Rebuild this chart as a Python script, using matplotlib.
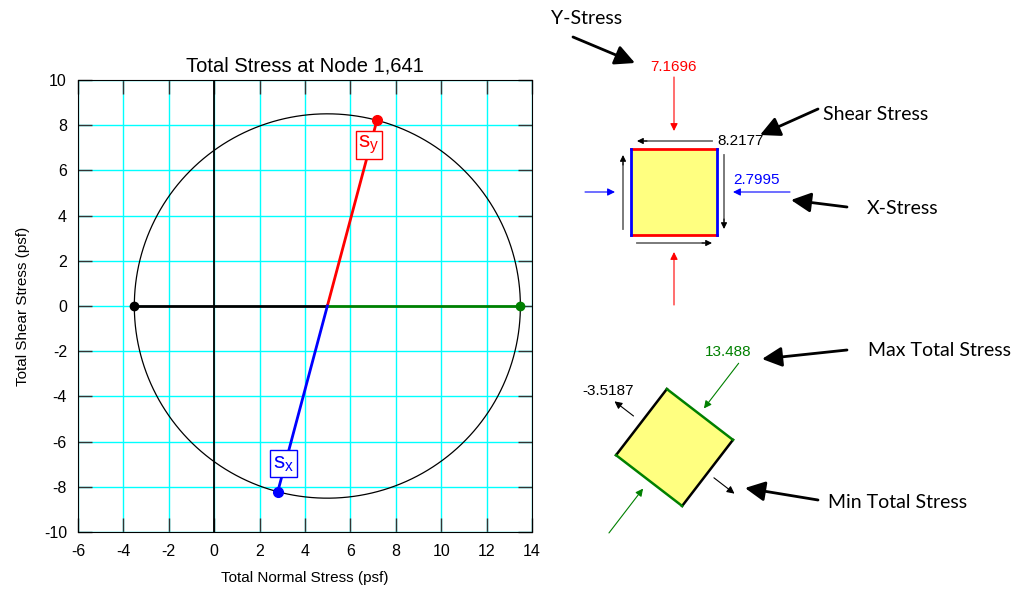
import matplotlib.pyplot as plt
import numpy as np
from matplotlib.patches import Polygon, Rectangle

plt.rcParams['font.family'] = ['Liberation Sans', 'DejaVu Sans']

# stress state at the node
node = '1,641'
sigma_x = 2.7995
sigma_y = 7.1696
tau_xy = 8.2177
x_ticks = [-6, -4, -2, 0, 2, 4, 6, 8, 10, 12, 14]
y_ticks = [-10, -8, -6, -4, -2, 0, 2, 4, 6, 8, 10]

centre = (sigma_x + sigma_y) / 2
radius = np.hypot((sigma_y - sigma_x) / 2, tau_xy)
s_max = centre + radius
s_min = centre - radius
theta = 0.5 * np.arctan2(2 * tau_xy, sigma_x - sigma_y)  # principal angle

fig = plt.figure(figsize=(10.19, 5.95), dpi=100)
ax = fig.add_axes([78 / 1019, 63 / 595, 454 / 1019, 452 / 595])

ax.set_xlim(x_ticks[0], x_ticks[-1])
ax.set_ylim(y_ticks[0], y_ticks[-1])
ax.set_xticks(x_ticks)
ax.set_yticks(y_ticks)
ax.set_xticklabels([str(v) for v in x_ticks])
ax.set_yticklabels([str(v) for v in y_ticks])
ax.grid(True, color='#00ffff', lw=1)
ax.tick_params(direction='in', length=10, width=1, color='#333333',
               top=True, right=True, labelsize=11.5)
ax.tick_params(axis='x', pad=9)
ax.tick_params(axis='y', pad=8)
ax.axvline(0, color='black', lw=1.3, zorder=2)

t = np.linspace(0, 2 * np.pi, 400)
ax.plot(centre + radius * np.cos(t), radius * np.sin(t), color='black', lw=0.9, zorder=3)

ax.plot([s_min, centre], [0, 0], color='black', lw=2, zorder=4)
ax.plot([centre, s_max], [0, 0], color='green', lw=2, zorder=4)
ax.plot([centre, sigma_y], [0, tau_xy], color='red', lw=2, zorder=4)
ax.plot([centre, sigma_x], [0, -tau_xy], color='blue', lw=2, zorder=4)
ax.plot(s_min, 0, 'o', color='black', ms=6, zorder=5)
ax.plot(s_max, 0, 'o', color='green', ms=6, zorder=5)
ax.plot(sigma_y, tau_xy, 'o', color='red', ms=7, zorder=5)
ax.plot(sigma_x, -tau_xy, 'o', color='blue', ms=7, zorder=5)

ax.text(sigma_y - 0.35, tau_xy - 1.1, r'$\mathregular{s_y}$', color='red', fontsize=16,
        ha='center', va='center', zorder=6,
        bbox=dict(boxstyle='square,pad=0.12', fc='white', ec='red', lw=1))
ax.text(sigma_x + 0.25, -tau_xy + 1.25, r'$\mathregular{s_x}$', color='blue', fontsize=16,
        ha='center', va='center', zorder=6,
        bbox=dict(boxstyle='square,pad=0.12', fc='white', ec='blue', lw=1))

ax.set_title('Total Stress at Node ' + node, fontsize=14.5, pad=6)
ax.set_xlabel('Total Normal Stress (psf)', fontsize=11, labelpad=8)
ax.set_ylabel('Total Shear Stress (psf)', fontsize=11, labelpad=10)

# overlay in pixel units for the stress element sketches
ov = fig.add_axes([0, 0, 1, 1], zorder=10)
ov.set_xlim(0, 1019)
ov.set_ylim(595, 0)
ov.axis('off')
ov.patch.set_alpha(0)


def arrow(x0, y0, x1, y1, color, lw=0.8, ms=11):
    ov.annotate('', xy=(x1, y1), xytext=(x0, y0),
                arrowprops=dict(arrowstyle='-|>', color=color, lw=lw,
                                mutation_scale=ms, shrinkA=0, shrinkB=0))


def pointer(x0, y0, x1, y1):
    arrow(x0, y0, x1, y1, 'black', lw=2, ms=30)


lab = dict(family=['Lato', 'DejaVu Sans'], fontsize=14, va='center')
num = dict(fontsize=11, va='center')

# x-y element
cx, cy, half = 674, 191.5, 43
ov.add_patch(Rectangle((cx - half, cy - half), 2 * half, 2 * half, fc='#ffff80', ec='none'))
ov.plot([cx - half, cx + half], [cy - half, cy - half], color='red', lw=2)
ov.plot([cx - half, cx + half], [cy + half, cy + half], color='red', lw=2)
ov.plot([cx - half, cx - half], [cy - half, cy + half], color='blue', lw=2)
ov.plot([cx + half, cx + half], [cy - half, cy + half], color='blue', lw=2)

arrow(cx, 77, cx, 131, 'red')
arrow(cx, 305, cx, 252, 'red')
arrow(585, 192, 615, 192, 'blue')
arrow(790, 192, 733, 192, 'blue')

grey = '#707070'
ov.plot([645, 712], [141, 141], color=grey, lw=1.3)
arrow(647, 141, 637, 141, 'black', ms=9)
ov.plot([637, 704], [243, 243], color=grey, lw=1.3)
arrow(702, 243, 712, 243, 'black', ms=9)
ov.plot([724, 724], [155, 221], color=grey, lw=1.3)
arrow(724, 219, 724, 229, 'black', ms=9)
ov.plot([623, 623], [163, 229], color=grey, lw=1.3)
arrow(623, 165, 623, 155, 'black', ms=9)

ov.text(cx, 67, f'{sigma_y:.4f}', color='red', ha='center', **num)
ov.text(717, 141, f'{tau_xy:.4f}', color='black', ha='left', **num)
ov.text(733, 180, f'{sigma_x:.4f}', color='blue', ha='left', **num)

ov.text(587, 18, 'Y-Stress', ha='center', **lab)
ov.text(823, 114, 'Shear Stress', ha='left', **lab)
ov.text(867, 208, 'X-Stress', ha='left', **lab)
pointer(573, 37, 635, 63)
pointer(818, 109, 760, 135)
pointer(847, 207, 791, 200)

# principal element, rotated by the principal angle
pc = np.array([674.5, 447.5])
ph = 41.7
a = np.pi / 2 - theta
u = np.array([np.cos(a), np.sin(a)])
v = np.array([-np.sin(a), np.cos(a)])
top = pc - u * ph - v * ph
right = pc + u * ph - v * ph
bottom = pc + u * ph + v * ph
left = pc - u * ph + v * ph
ov.add_patch(Polygon([top, right, bottom, left], closed=True, fc='#ffff80', ec='none'))
ov.plot([left[0], top[0]], [left[1], top[1]], color='black', lw=1.8)
ov.plot([right[0], bottom[0]], [right[1], bottom[1]], color='black', lw=1.8)
ov.plot([top[0], right[0]], [top[1], right[1]], color='green', lw=1.8)
ov.plot([bottom[0], left[0]], [bottom[1], left[1]], color='green', lw=1.8)

m = pc - v * ph + np.array([4, -6])
arrow(*(m - v * 57), *m, 'green')
m = pc + v * ph + np.array([-6, 8])
arrow(*(m + v * 56), *m, 'green')
m = pc - u * ph - u * 10
arrow(*m, *(m - u * 24), 'black')
m = pc + u * ph + u * 8
arrow(*m, *(m + u * 26), 'black')

ov.text(728, 352, f'{s_max:.3f}', color='green', ha='center', **num)
ov.text(608, 391, f'{s_min:.4f}', color='black', ha='center', **num)

ov.text(868, 351, 'Max Total Stress', ha='left', **lab)
ov.text(828, 503, 'Min Total Stress', ha='left', **lab)
pointer(847, 350, 762, 359)
pointer(818, 500, 745, 488)

fig.savefig('out.png', dpi=100)
